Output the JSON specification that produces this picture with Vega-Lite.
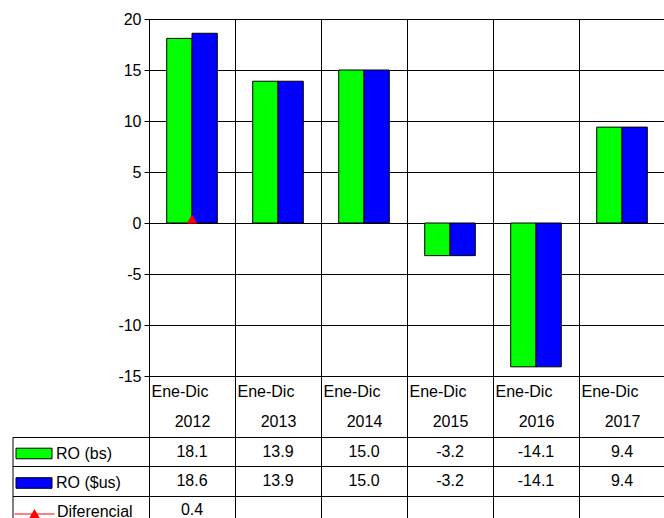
{
  "$schema": "https://vega.github.io/schema/vega-lite/v6.json",
  "padding": {"left": 11, "top": 10, "right": 0, "bottom": 0},
  "background": "white",
  "datasets": {
    "datos": [
      {"periodo": "2012", "serie": "RO (bs)", "valor": 18.1},
      {"periodo": "2012", "serie": "RO ($us)", "valor": 18.6},
      {"periodo": "2012", "serie": "Diferencial", "valor": 0.4},
      {"periodo": "2013", "serie": "RO (bs)", "valor": 13.9},
      {"periodo": "2013", "serie": "RO ($us)", "valor": 13.9},
      {"periodo": "2014", "serie": "RO (bs)", "valor": 15.0},
      {"periodo": "2014", "serie": "RO ($us)", "valor": 15.0},
      {"periodo": "2015", "serie": "RO (bs)", "valor": -3.2},
      {"periodo": "2015", "serie": "RO ($us)", "valor": -3.2},
      {"periodo": "2016", "serie": "RO (bs)", "valor": -14.1},
      {"periodo": "2016", "serie": "RO ($us)", "valor": -14.1},
      {"periodo": "2017", "serie": "RO (bs)", "valor": 9.4},
      {"periodo": "2017", "serie": "RO ($us)", "valor": 9.4}
    ]
  },
  "config": {
    "font": "Liberation Sans",
    "locale": {"number": {"decimal": ".", "thousands": ",", "grouping": [3], "currency": ["$", ""], "minus": "-"}},
    "view": {"stroke": "black", "strokeWidth": 1},
    "axis": {
      "labelFont": "Liberation Sans",
      "labelFontSize": 16,
      "labelColor": "black",
      "tickColor": "black",
      "domainColor": "black",
      "gridColor": "black",
      "gridOpacity": 1,
      "title": null
    }
  },
  "spacing": 61,
  "bounds": "flush",
  "resolve": {"scale": {"x": "independent", "y": "independent", "color": "shared", "shape": "shared"}},
  "vconcat": [
    {
      "width": 516,
      "height": 357,
      "data": {"name": "datos"},
      "layer": [
        {
          "transform": [{"filter": "datum.serie !== 'Diferencial'"}],
          "mark": {"type": "bar", "stroke": "black", "strokeWidth": 1},
          "encoding": {
            "x": {
              "field": "periodo", "type": "nominal",
              "scale": {"paddingInner": 0, "paddingOuter": 0},
              "axis": {
                "orient": "bottom", "tickBand": "extent", "tickSize": 62, "grid": true,
                "domain": false, "labelAngle": 0, "labelAlign": "left", "labelBaseline": "middle",
                "labelPadding": -46.5, "labelOffset": -41,
                "labelExpr": "datum.label ? 'Ene-Dic' : ''"
              }
            },
            "xOffset": {
              "field": "serie", "type": "nominal",
              "scale": {"domain": ["RO (bs)", "RO ($us)"], "paddingInner": 0, "paddingOuter": 0.7}
            },
            "y": {
              "field": "valor", "type": "quantitative",
              "scale": {"domain": [-15, 20], "nice": false, "zero": false},
              "axis": {"values": [-15, -10, -5, 0, 5, 10, 15, 20], "grid": true, "tickSize": 5, "labelPadding": 3, "domain": false}
            },
            "color": {
              "field": "serie", "type": "nominal",
              "scale": {"domain": ["RO (bs)", "RO ($us)"], "range": ["#00ff00", "#0000ff"]},
              "legend": {
                "orient": "none", "legendX": -125.5, "legendY": 424,
                "title": null, "labelFontSize": 16, "labelFont": "Liberation Sans", "labelColor": "black",
                "symbolSize": 400, "rowPadding": 10.5, "padding": 0, "labelOffset": 11.5, "symbolOffset": 0,
                "labelLimit": 200,
                "symbolType": "M-1.8,-0.53H1.8V0.53H-1.8Z",
                "symbolStrokeColor": "black",
                "symbolStrokeWidth": 1,
                "symbolOpacity": 1
              }
            }
          }
        },
        {
          "transform": [{"filter": "datum.serie === 'Diferencial'"}],
          "mark": {"type": "point", "shape": "triangle-up", "filled": true, "size": 110, "opacity": 1, "color": "#ff0000"},
          "encoding": {
            "x": {"field": "periodo", "type": "nominal"},
            "y": {"field": "valor", "type": "quantitative"}
          }
        },
        {
          "transform": [{"filter": "datum.serie === 'Diferencial'"}],
          "mark": {"type": "point", "filled": true, "size": 110, "opacity": 0, "color": "#ff0000"},
          "encoding": {
            "x": {"field": "periodo", "type": "nominal"},
            "y": {"field": "valor", "type": "quantitative"},
            "shape": {
              "field": "serie", "type": "nominal",
              "scale": {"domain": ["Diferencial"], "range": ["M-2,0.14H2V0.26H-2Z M0,-0.3L0.55,0.65H-0.55Z"]},
              "legend": {
                "orient": "none", "legendX": -125.5, "legendY": 482,
                "title": null, "labelFontSize": 16, "labelFont": "Liberation Sans", "labelColor": "black",
                "symbolSize": 400, "padding": 0, "labelOffset": 11.5, "symbolOffset": 0,
                "labelLimit": 200,
                "symbolFillColor": "#ff0000",
                "symbolOpacity": 1
              }
            }
          }
        }
      ]
    },
    {
      "width": 516,
      "height": 88,
      "data": {"name": "datos"},
      "mark": {"type": "text", "fontSize": 16, "font": "Liberation Sans", "color": "black"},
      "encoding": {
        "x": {
          "field": "periodo", "type": "nominal",
          "scale": {"paddingInner": 0, "paddingOuter": 0},
          "axis": {"orient": "top", "labels": true, "ticks": false, "domain": false, "grid": true, "tickBand": "extent",
                   "labelAngle": 0, "labelAlign": "center", "labelBaseline": "middle", "labelPadding": 15.5,
                   "labelExpr": "datum.label ? datum.label : ''"}
        },
        "y": {
          "field": "serie", "type": "nominal", "sort": ["RO (bs)", "RO ($us)", "Diferencial"],
          "scale": {"paddingInner": 0, "paddingOuter": 0},
          "axis": {"offset": 136.5, "tickSize": -136.5, "tickBand": "extent", "labels": false, "grid": true, "domain": true}
        },
        "text": {"field": "valor", "type": "quantitative", "format": ".1f"}
      }
    }
  ]
}
